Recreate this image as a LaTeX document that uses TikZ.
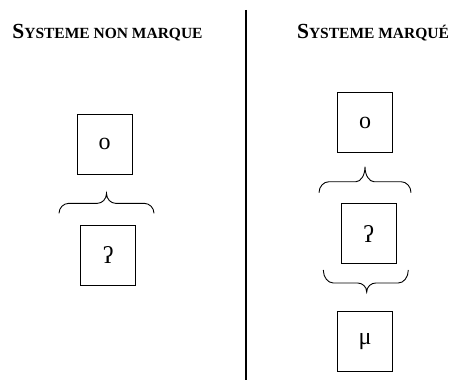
\documentclass[tikz,border=0pt]{standalone}
\usepackage{fontspec}
\setmainfont{Liberation Serif}
\tikzset{
  unitbox/.style={draw, line width=0.9pt, minimum width=55pt, minimum height=60pt, inner sep=0pt, font=\fontsize{24}{24}\selectfont},
  bracestyle/.style={draw, line width=0.9pt},
  title/.style={anchor=base, inner sep=0pt, font=\bfseries}
}
\newcommand{\bigS}{{\fontsize{21.5}{21.5}\selectfont S}}
\newcommand{\smallc}[1]{{\fontsize{15.5}{15.5}\selectfont #1}}
% #1 left x, #2 right x, #3 tip x, #4 end y, #5 flat y, #6 tip y
\newcommand{\drawcurly}[6]{%
  \draw[bracestyle] (#1,#4) .. controls (#1,{#4+0.55*(#5-#4)}) and ({#1+4.5},#5) .. ({#1+10},#5)
    -- ({#3-9},#5) .. controls ({#3-4.5},#5) and (#3,{#5+0.4*(#6-#5)}) .. (#3,#6)
    .. controls (#3,{#5+0.4*(#6-#5)}) and ({#3+4.5},#5) .. ({#3+9},#5)
    -- ({#2-10},#5) .. controls ({#2-4.5},#5) and (#2,{#4+0.55*(#5-#4)}) .. (#2,#4);}
\begin{document}
\begin{tikzpicture}[x=1pt,y=1pt]
\useasboundingbox (0,0) rectangle (454,381);
\node[title] (t1) at (107.5,342.7) {\bigS\smallc{YSTEME NON MARQUE}};
\node[title] (t2) at (373,342.7) {\bigS\smallc{YSTEME MARQUÉ}};
\coordinate (ltop) at (246,371);
\coordinate (lbot) at (246,1);
\draw[line width=1.3pt] (ltop) -- (lbot);
% left
\node[unitbox] (lo) at (104.7,237) {o};
\drawcurly{59}{154}{106.5}{167.7}{177.7}{187.7}
\node[unitbox] (lq) at (108.3,126) {ʔ};
% right
\node[unitbox] (ro) at (365,258.3) {o};
\drawcurly{319}{411}{365}{188.3}{199.3}{214.3}
\node[unitbox] (rq) at (368.7,147.3) {ʔ};
\drawcurly{323.3}{408.3}{366.7}{111}{98}{89}
\node[unitbox] (rm) at (365,39.3) {μ};
\end{tikzpicture}
\end{document}
